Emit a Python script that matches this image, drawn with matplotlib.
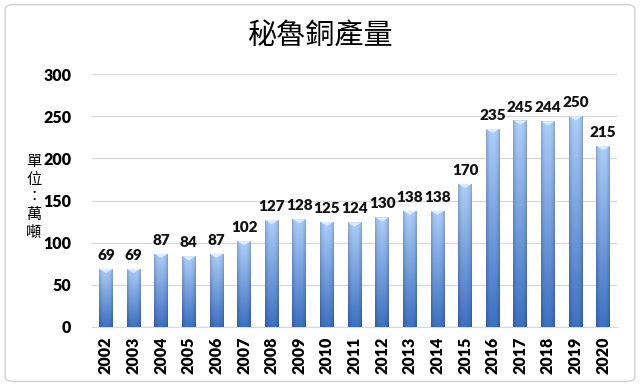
import numpy as np
import matplotlib.pyplot as plt
from matplotlib.patches import FancyBboxPatch, Polygon

years = [str(y) for y in range(2002, 2021)]
output = [69, 69, 87, 84, 87, 102, 127, 128, 125, 124, 130, 138, 138, 170, 235, 245, 244, 250, 215]

plt.rcParams['font.family'] = ['Lato', 'Noto Sans CJK TC', 'DejaVu Sans']

fig = plt.figure(figsize=(6.4, 3.86), dpi=100)
ax = fig.add_axes([0.144, 0.153, 0.82, 0.655])

# rounded frame around the chart
frame = FancyBboxPatch((0.008, 0.012), 0.984, 0.976, boxstyle='round,pad=0,rounding_size=0.012',
                       transform=fig.transFigure, facecolor='white', edgecolor='#d0d0d0',
                       linewidth=1.0, zorder=-10)
fig.patches.append(frame)

x = np.arange(len(years))
bars = ax.bar(x, output, width=0.5, color='none', edgecolor='none', zorder=3)

# gradient fill: light on top, darker at bottom and at the sides
ny, nx = 100, 30
v = np.linspace(0, 1, ny)[:, None]          # 0 bottom -> 1 top
h = np.linspace(-1, 1, nx)[None, :]
top = np.array([0.68, 0.81, 0.98])
bot = np.array([0.24, 0.44, 0.76])
base = bot + (top - bot) * v[..., None]
edge = 1 - 0.2 * np.abs(h[..., None]) ** 3
img = np.clip(base * edge, 0, 1)

for b in bars:
    x0, w, hgt = b.get_x(), b.get_width(), b.get_height()
    im = ax.imshow(img, extent=(x0, x0 + w, 0, hgt), origin='lower', aspect='auto', zorder=3)
    im.set_clip_path(b)
    tri = Polygon([(x0, hgt), (x0 + w, hgt), (x0 + w / 2, hgt - 5)], closed=True,
                  facecolor='#dcebfd', edgecolor='none', zorder=4)
    ax.add_patch(tri)
    ax.annotate(str(int(hgt)), (x0 + w / 2, hgt), xytext=(0, 5), textcoords='offset points',
                ha='center', va='bottom', fontsize=11, fontweight='heavy', color='#111111')

ax.set_xlim(-0.5, len(years) - 0.5)
ax.set_ylim(0, 300)
ax.set_yticks(range(0, 301, 50))
ax.set_xticks(x)
ax.set_xticklabels(years, rotation=90, fontsize=11.5, fontweight='heavy')
ax.tick_params(axis='y', labelsize=11.5, length=0, pad=15)
ax.tick_params(axis='x', length=0, pad=7)
for lab in ax.get_yticklabels():
    lab.set_fontweight('heavy')

ax.grid(axis='y', color='#d9d9d9', linewidth=1.0, zorder=0)
ax.set_axisbelow(True)
for s in ['top', 'right', 'left']:
    ax.spines[s].set_visible(False)
ax.spines['bottom'].set_color('#d9d9d9')

fig.text(0.5, 0.905, '秘魯銅產量', ha='center', va='center', fontsize=21,
         family=['Noto Sans CJK TC', 'DejaVu Sans'])
fig.text(0.053, 0.49, '單\n位\n：\n萬\n噸', ha='center', va='center', fontsize=11,
         linespacing=1.05, family=['Noto Sans CJK TC', 'DejaVu Sans'])

fig.savefig('out.png', dpi=100)
